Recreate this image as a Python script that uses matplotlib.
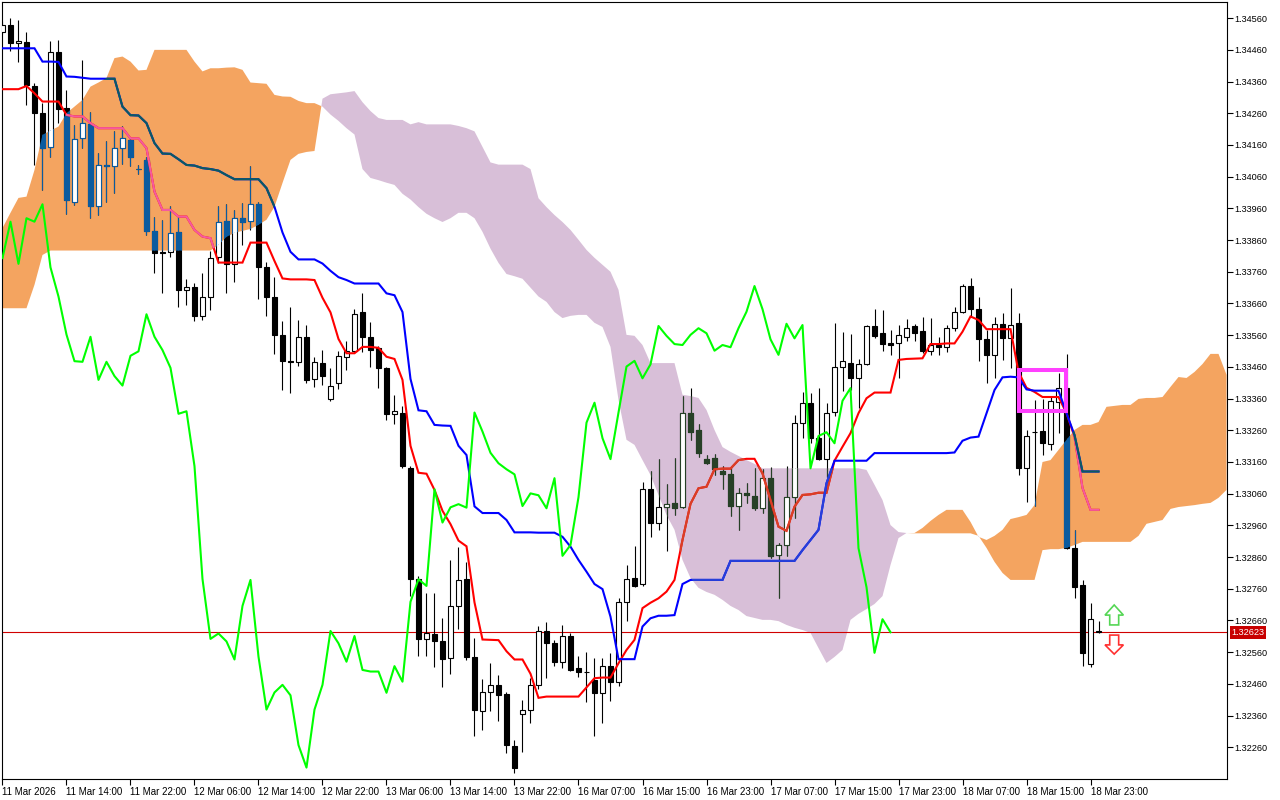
import numpy as np
import matplotlib
matplotlib.use("Agg")
import matplotlib.pyplot as plt
import matplotlib.transforms as mtransforms
from matplotlib.path import Path
from matplotlib.patches import Polygon, Rectangle

# H1 candles, one per bar index
OPEN = [1.34517, 1.34539, 1.34481, 1.34484, 1.34346, 1.34260, 1.34153, 1.34453, 1.34276, 1.33981,
        1.34181, 1.34227, 1.33969, 1.34097, 1.34095, 1.34150, 1.34176, 1.34084, 1.34113, 1.33890,
        1.33821, 1.33822, 1.33884, 1.33701, 1.33711, 1.33621, 1.33680, 1.33806, 1.33920, 1.33785,
        1.33929, 1.33920, 1.33973, 1.33776, 1.33682, 1.33562, 1.33478, 1.33475, 1.33555, 1.33422,
        1.33472, 1.33358, 1.33408, 1.33492, 1.33509, 1.33633, 1.33555, 1.33520, 1.33457, 1.33312,
        1.33316, 1.33140, 1.32791, 1.32602, 1.32616, 1.32594, 1.32541, 1.32706, 1.32791, 1.32546,
        1.32376, 1.32433, 1.32457, 1.32428, 1.32263, 1.32365, 1.32379, 1.32457, 1.32626, 1.32588,
        1.32530, 1.32611, 1.32509, 1.32498, 1.32472, 1.32432, 1.32516, 1.32467, 1.32719, 1.32793,
        1.32774, 1.33074, 1.32969, 1.33017, 1.33030, 1.33017, 1.33316, 1.33261, 1.33169, 1.33172,
        1.33130, 1.33122, 1.33021, 1.33063, 1.33053, 1.33014, 1.33109, 1.32867, 1.32898, 1.33049,
        1.33282, 1.33347, 1.33235, 1.33169, 1.33319, 1.33461, 1.33473, 1.33424, 1.33468, 1.33589,
        1.33568, 1.33536, 1.33536, 1.33554, 1.33589, 1.33573, 1.33511, 1.33529, 1.33522, 1.33582,
        1.33634, 1.33715, 1.33642, 1.33547, 1.33498, 1.33596, 1.33550, 1.33600, 1.33140, 1.33254,
        1.33258, 1.33217, 1.33350, 1.33393, 1.32888, 1.32772, 1.32523, 1.32626]
HIGH = [1.34550, 1.34560, 1.34555, 1.34515, 1.34356, 1.34293, 1.34489, 1.34492, 1.34334, 1.34223,
        1.34428, 1.34265, 1.34134, 1.34173, 1.34204, 1.34220, 1.34186, 1.34097, 1.34123, 1.33932,
        1.33924, 1.33968, 1.33934, 1.33737, 1.33724, 1.33756, 1.33824, 1.33966, 1.33974, 1.33955,
        1.33976, 1.34094, 1.33981, 1.33791, 1.33745, 1.33605, 1.33650, 1.33608, 1.33591, 1.33492,
        1.33513, 1.33457, 1.33509, 1.33542, 1.33644, 1.33692, 1.33602, 1.33527, 1.33460, 1.33370,
        1.33337, 1.33147, 1.32799, 1.32746, 1.32746, 1.32668, 1.32851, 1.32893, 1.32845, 1.32605,
        1.32475, 1.32527, 1.32489, 1.32436, 1.32284, 1.32408, 1.32478, 1.32644, 1.32654, 1.32598,
        1.32646, 1.32622, 1.32548, 1.32562, 1.32541, 1.32541, 1.32558, 1.32730, 1.32835, 1.32895,
        1.33098, 1.33130, 1.33169, 1.33091, 1.33172, 1.33368, 1.33393, 1.33280, 1.33182, 1.33185,
        1.33147, 1.33145, 1.33077, 1.33095, 1.33140, 1.33137, 1.33143, 1.32904, 1.33147, 1.33308,
        1.33382, 1.33377, 1.33393, 1.33347, 1.33600, 1.33571, 1.33564, 1.33484, 1.33592, 1.33642,
        1.33640, 1.33577, 1.33592, 1.33610, 1.33596, 1.33618, 1.33613, 1.33555, 1.33592, 1.33648,
        1.33722, 1.33740, 1.33682, 1.33577, 1.33618, 1.33631, 1.33708, 1.33629, 1.33261, 1.33356,
        1.33358, 1.33368, 1.33440, 1.33501, 1.32946, 1.32788, 1.32716, 1.32657]
LOW = [1.34510, 1.34455, 1.34423, 1.34286, 1.34097, 1.34018, 1.34121, 1.34229, 1.33943, 1.33971,
       1.34150, 1.33929, 1.33939, 1.33981, 1.34008, 1.34100, 1.34095, 1.34069, 1.33876, 1.33757,
       1.33692, 1.33808, 1.33650, 1.33655, 1.33606, 1.33608, 1.33640, 1.33787, 1.33692, 1.33729,
       1.33845, 1.33892, 1.33673, 1.33619, 1.33500, 1.33387, 1.33379, 1.33464, 1.33410, 1.33397,
       1.33403, 1.33351, 1.33389, 1.33450, 1.33503, 1.33506, 1.33461, 1.33394, 1.33293, 1.33281,
       1.33140, 1.32738, 1.32548, 1.32548, 1.32513, 1.32450, 1.32492, 1.32633, 1.32534, 1.32295,
       1.32316, 1.32376, 1.32344, 1.32241, 1.32179, 1.32245, 1.32337, 1.32443, 1.32478, 1.32516,
       1.32509, 1.32502, 1.32483, 1.32404, 1.32296, 1.32338, 1.32407, 1.32453, 1.32659, 1.32765,
       1.32769, 1.32924, 1.32946, 1.32880, 1.32993, 1.33015, 1.33230, 1.33177, 1.33154, 1.33119,
       1.33074, 1.32990, 1.32946, 1.33032, 1.33009, 1.32998, 1.32856, 1.32730, 1.32864, 1.32982,
       1.33235, 1.33221, 1.33166, 1.33112, 1.33305, 1.33385, 1.33387, 1.33330, 1.33465, 1.33550,
       1.33511, 1.33498, 1.33424, 1.33543, 1.33543, 1.33503, 1.33498, 1.33498, 1.33508, 1.33574,
       1.33631, 1.33618, 1.33477, 1.33408, 1.33424, 1.33482, 1.33456, 1.33119, 1.33035, 1.33021,
       1.33182, 1.33198, 1.33251, 1.32885, 1.32730, 1.32516, 1.32512, 1.32620]
CLOSE = [1.34540, 1.34481, 1.34488, 1.34350, 1.34260, 1.34152, 1.34453, 1.34273, 1.33985, 1.34178,
         1.34229, 1.33969, 1.34097, 1.34094, 1.34150, 1.34181, 1.34123, 1.34084, 1.33890, 1.33819,
         1.33819, 1.33882, 1.33701, 1.33711, 1.33621, 1.33680, 1.33803, 1.33918, 1.33785, 1.33929,
         1.33918, 1.33973, 1.33774, 1.33682, 1.33562, 1.33478, 1.33476, 1.33555, 1.33419, 1.33476,
         1.33431, 1.33401, 1.33495, 1.33509, 1.33626, 1.33555, 1.33513, 1.33457, 1.33312, 1.33320,
         1.33147, 1.32791, 1.32602, 1.32619, 1.32594, 1.32537, 1.32706, 1.32788, 1.32546, 1.32379,
         1.32433, 1.32457, 1.32424, 1.32267, 1.32196, 1.32379, 1.32457, 1.32627, 1.32588, 1.32530,
         1.32611, 1.32504, 1.32499, 1.32499, 1.32432, 1.32516, 1.32467, 1.32719, 1.32790, 1.32769,
         1.33074, 1.32969, 1.33017, 1.33027, 1.33016, 1.33316, 1.33256, 1.33189, 1.33156, 1.33137,
         1.33121, 1.33021, 1.33061, 1.33055, 1.33014, 1.33109, 1.32864, 1.32898, 1.33049, 1.33284,
         1.33347, 1.33235, 1.33169, 1.33316, 1.33461, 1.33479, 1.33424, 1.33468, 1.33589, 1.33558,
         1.33532, 1.33529, 1.33561, 1.33582, 1.33566, 1.33511, 1.33529, 1.33522, 1.33582, 1.33634,
         1.33715, 1.33642, 1.33547, 1.33498, 1.33596, 1.33550, 1.33592, 1.33140, 1.33242, 1.33254,
         1.33219, 1.33353, 1.33393, 1.32888, 1.32765, 1.32558, 1.32664, 1.32623]

# Ichimoku lines as displayed
TENKAN = [1.34336, 1.34336, 1.34336, 1.34346, 1.34323, 1.34297, 1.34297, 1.34297, 1.34255, 1.34250,
          1.34250, 1.34229, 1.34213, 1.34213, 1.34213, 1.34213, 1.34181, 1.34181, 1.34150, 1.34013,
          1.33955, 1.33955, 1.33934, 1.33934, 1.33892, 1.33871, 1.33866, 1.33789, 1.33789, 1.33789,
          1.33789, 1.33852, 1.33852, 1.33852, 1.33794, 1.33739, 1.33736, 1.33736, 1.33736, 1.33734,
          1.33678, 1.33632, 1.33548, 1.33503, 1.33503, 1.33523, 1.33523, 1.33520, 1.33492, 1.33485,
          1.33419, 1.33211, 1.33126, 1.33123, 1.33072, 1.33006, 1.32964, 1.32912, 1.32894, 1.32717,
          1.32600, 1.32599, 1.32598, 1.32563, 1.32537, 1.32537, 1.32492, 1.32416, 1.32420, 1.32420,
          1.32420, 1.32420, 1.32420, 1.32449, 1.32478, 1.32480, 1.32480, 1.32525, 1.32567, 1.32599,
          1.32699, 1.32716, 1.32730, 1.32751, 1.32788, 1.32914, 1.33028, 1.33077, 1.33082, 1.33137,
          1.33139, 1.33139, 1.33166, 1.33170, 1.33170, 1.33124, 1.33040, 1.32956, 1.32943, 1.33019,
          1.33056, 1.33058, 1.33063, 1.33063, 1.33164, 1.33208, 1.33251, 1.33314, 1.33361, 1.33379,
          1.33379, 1.33379, 1.33482, 1.33485, 1.33486, 1.33487, 1.33532, 1.33532, 1.33534, 1.33534,
          1.33571, 1.33619, 1.33608, 1.33579, 1.33579, 1.33579, 1.33579, 1.33444, 1.33394, 1.33381,
          1.33365, 1.33365, 1.33365, 1.33314, 1.33239, 1.33078, 1.33009, 1.33009]
KIJUN = [1.34465, 1.34465, 1.34465, 1.34465, 1.34465, 1.34423, 1.34423, 1.34422, 1.34376, 1.34375,
         1.34372, 1.34369, 1.34369, 1.34369, 1.34369, 1.34281, 1.34254, 1.34253, 1.34229, 1.34166,
         1.34133, 1.34132, 1.34115, 1.34097, 1.34095, 1.34087, 1.34084, 1.34079, 1.34065, 1.34052,
         1.34052, 1.34052, 1.34052, 1.34024, 1.33965, 1.33884, 1.33823, 1.33799, 1.33799, 1.33799,
         1.33786, 1.33763, 1.33743, 1.33734, 1.33723, 1.33723, 1.33723, 1.33723, 1.33692, 1.33686,
         1.33633, 1.33422, 1.33323, 1.33320, 1.33277, 1.33275, 1.33274, 1.33211, 1.33182, 1.33020,
         1.32999, 1.32999, 1.32999, 1.32977, 1.32938, 1.32938, 1.32938, 1.32937, 1.32937, 1.32937,
         1.32924, 1.32893, 1.32851, 1.32814, 1.32775, 1.32759, 1.32672, 1.32538, 1.32538, 1.32538,
         1.32641, 1.32667, 1.32675, 1.32675, 1.32677, 1.32775, 1.32788, 1.32788, 1.32788, 1.32788,
         1.32788, 1.32848, 1.32848, 1.32848, 1.32848, 1.32848, 1.32848, 1.32848, 1.32848, 1.32848,
         1.32882, 1.32914, 1.32946, 1.33093, 1.33164, 1.33164, 1.33164, 1.33164, 1.33164, 1.33188,
         1.33188, 1.33188, 1.33188, 1.33188, 1.33188, 1.33188, 1.33188, 1.33188, 1.33188, 1.33190,
         1.33227, 1.33237, 1.33240, 1.33314, 1.33387, 1.33427, 1.33429, 1.33427, 1.33389, 1.33385,
         1.33385, 1.33385, 1.33385, 1.33314, 1.33245, 1.33130, 1.33130, 1.33130]
# senkou spans, already shifted 26 bars ahead (so they run past the last candle)
SPAN_A = [1.33898, 1.33946, 1.33993, 1.33997, 1.34081, 1.34192, 1.34205, 1.34218, 1.34260, 1.34281,
          1.34302, 1.34344, 1.34357, 1.34371, 1.34434, 1.34439, 1.34423, 1.34395, 1.34397, 1.34460,
          1.34460, 1.34460, 1.34460, 1.34460, 1.34423, 1.34392, 1.34402, 1.34402, 1.34404, 1.34405,
          1.34397, 1.34357, 1.34355, 1.34353, 1.34318, 1.34313, 1.34312, 1.34299, 1.34292, 1.34292,
          1.34281, 1.34256, 1.34236, 1.34213, 1.34193, 1.34084, 1.34056, 1.34049, 1.34041, 1.34034,
          1.34006, 1.33988, 1.33964, 1.33943, 1.33929, 1.33917, 1.33929, 1.33946, 1.33946, 1.33929,
          1.33886, 1.33833, 1.33788, 1.33753, 1.33746, 1.33738, 1.33710, 1.33682, 1.33665, 1.33633,
          1.33614, 1.33621, 1.33624, 1.33624, 1.33599, 1.33586, 1.33523, 1.33356, 1.33230, 1.33214,
          1.33166, 1.33119, 1.33056, 1.32993, 1.32946, 1.32851, 1.32794, 1.32763, 1.32750, 1.32741,
          1.32725, 1.32706, 1.32693, 1.32674, 1.32668, 1.32662, 1.32662, 1.32658, 1.32646, 1.32637,
          1.32630, 1.32621, 1.32573, 1.32526, 1.32545, 1.32567, 1.32662, 1.32681, 1.32696, 1.32712,
          1.32737, 1.32835, 1.32920, 1.32936, 1.32936, 1.32952, 1.32974, 1.32993, 1.33009, 1.33009,
          1.33009, 1.32971, 1.32924, 1.32914, 1.32927, 1.32946, 1.32980, 1.32986, 1.32993, 1.33024,
          1.33160, 1.33166, 1.33198, 1.33230, 1.33261, 1.33277, 1.33277, 1.33286, 1.33334, 1.33337,
          1.33340, 1.33340, 1.33359, 1.33362, 1.33362, 1.33365, 1.33397, 1.33428, 1.33425, 1.33444,
          1.33469, 1.33501, 1.33501, 1.33435]
SPAN_B = [1.33645, 1.33645, 1.33645, 1.33645, 1.33719, 1.33813, 1.33827, 1.33827, 1.33827, 1.33827,
          1.33827, 1.33827, 1.33827, 1.33827, 1.33827, 1.33827, 1.33827, 1.33827, 1.33827, 1.33827,
          1.33827, 1.33827, 1.33827, 1.33827, 1.33827, 1.33827, 1.33827, 1.33845, 1.33870, 1.33883,
          1.33889, 1.33895, 1.33908, 1.33924, 1.33965, 1.34040, 1.34113, 1.34132, 1.34138, 1.34141,
          1.34306, 1.34320, 1.34323, 1.34326, 1.34330, 1.34295, 1.34267, 1.34245, 1.34239, 1.34239,
          1.34239, 1.34225, 1.34232, 1.34225, 1.34225, 1.34225, 1.34225, 1.34220, 1.34213, 1.34203,
          1.34154, 1.34105, 1.34098, 1.34098, 1.34098, 1.34098, 1.34084, 1.33992, 1.33964, 1.33939,
          1.33917, 1.33892, 1.33861, 1.33829, 1.33804, 1.33782, 1.33760, 1.33703, 1.33561, 1.33558,
          1.33529, 1.33472, 1.33472, 1.33472, 1.33472, 1.33372, 1.33368, 1.33362, 1.33324, 1.33261,
          1.33207, 1.33192, 1.33179, 1.33166, 1.33154, 1.33140, 1.33140, 1.33140, 1.33140, 1.33140,
          1.33140, 1.33140, 1.33140, 1.33140, 1.33140, 1.33140, 1.33140, 1.33140, 1.33135, 1.33088,
          1.33040, 1.32961, 1.32939, 1.32936, 1.32935, 1.32935, 1.32935, 1.32935, 1.32935, 1.32935,
          1.32935, 1.32935, 1.32927, 1.32889, 1.32845, 1.32810, 1.32788, 1.32788, 1.32788, 1.32788,
          1.32882, 1.32885, 1.32885, 1.32889, 1.32898, 1.32908, 1.32908, 1.32908, 1.32908, 1.32908,
          1.32908, 1.32908, 1.32927, 1.32965, 1.32971, 1.32977, 1.33012, 1.33018, 1.33021, 1.33024,
          1.33028, 1.33031, 1.33047, 1.33072]

XLABELS = ["11 Mar 2026", "11 Mar 14:00", "11 Mar 22:00", "12 Mar 06:00", "12 Mar 14:00",
           "12 Mar 22:00", "13 Mar 06:00", "13 Mar 14:00", "13 Mar 22:00", "16 Mar 07:00",
           "16 Mar 15:00", "16 Mar 23:00", "17 Mar 07:00", "17 Mar 15:00", "17 Mar 23:00",
           "18 Mar 07:00", "18 Mar 15:00", "18 Mar 23:00"]
LAST_PRICE = 1.32623

plt.rcParams['font.family'] = ['Liberation Sans', 'DejaVu Sans']

o = np.array(OPEN)
h = np.array(HIGH)
l = np.array(LOW)
c = np.array(CLOSE)
x = np.arange(len(c))
sa = np.array(SPAN_A)
sb = np.array(SPAN_B)
xc = np.arange(len(sa))

fig = plt.figure(figsize=(12.8, 8), dpi=100)
ax = fig.add_axes([2 / 1280, 21 / 800, 1225 / 1280, 777 / 800])

# kumo
kumo_up = ax.fill_between(xc, sa, sb, where=sa >= sb, interpolate=True,
                          color='#f4a460', lw=0, zorder=1)
kumo_dn = ax.fill_between(xc, sa, sb, where=sa < sb, interpolate=True,
                          color='#d8bfd8', lw=0, zorder=1)
up_path = Path.make_compound_path(*kumo_up.get_paths())
dn_path = Path.make_compound_path(*kumo_dn.get_paths())


def candles(dark, z, clip=None):
    rise = c >= o
    lo = np.minimum(o, c)
    hgt = np.maximum(np.abs(c - o), 0.000004)
    arts = [ax.vlines(x, l, h, colors=dark, lw=0.8, zorder=z)]
    arts += ax.bar(x[rise], hgt[rise], 0.6, lo[rise], color='white',
                   edgecolor=dark, lw=0.8, zorder=z).patches
    arts += ax.bar(x[~rise], hgt[~rise], 0.6, lo[~rise], color=dark,
                   edgecolor=dark, lw=0.8, zorder=z).patches
    if clip is not None:
        for a in arts:
            a.set_clip_path(clip, ax.transData)


def line(y, col, z, clip=None):
    ln, = ax.plot(x, y, color=col, lw=1.5, zorder=z, solid_joinstyle='miter')
    if clip is not None:
        ln.set_clip_path(clip, ax.transData)


ax.axhline(LAST_PRICE, color='#d00000', lw=0.8, zorder=2)

# the terminal inverts colours where objects cross the cloud
candles('black', 3)
candles('#0b5b9f', 3.5, up_path)
candles('#274027', 3.5, dn_path)
line(TENKAN, '#ff0000', 4)
line(TENKAN, '#f45b9f', 4.2, up_path)
line(TENKAN, '#d84027', 4.2, dn_path)
line(KIJUN, '#0000ff', 4.4)
line(KIJUN, '#0b5b60', 4.6, up_path)
line(KIJUN, '#2740d8', 4.6, dn_path)

# chikou = close drawn 26 bars back
ax.plot(x[:-26], c[26:], color='#00ff00', lw=1.5, zorder=5)

# marked box
ax.add_patch(Rectangle((127.0, 1.33320), 5.98, 0.00129, fill=False,
                       ec='#ff40ff', lw=2.9, zorder=6))

# buy / sell arrows
ax.add_patch(Polygon([(138.96, 1.32709), (140.11, 1.32677), (139.52, 1.32677), (139.52, 1.32646),
                      (138.40, 1.32646), (138.40, 1.32677), (137.81, 1.32677)],
                     closed=True, fc='white', ec='#55d655', lw=1.2, zorder=6))
ax.add_patch(Polygon([(138.96, 1.32554), (140.11, 1.32583), (139.52, 1.32583), (139.52, 1.32614),
                      (138.40, 1.32614), (138.40, 1.32583), (137.81, 1.32583)],
                     closed=True, fc='white', ec='#ff3030', lw=1.2, zorder=6))

ax.set_xlim(-0.06, 153.06)
ax.set_ylim(1.32160, 1.34611)

ax.set_xticks(np.arange(0, 8 * len(XLABELS), 8))
ax.set_xticklabels(XLABELS)
for t in ax.get_xticklabels():
    t.set_horizontalalignment('left')
ax.set_yticks(np.round(np.arange(1.32260, 1.34561, 0.001), 5))
ax.yaxis.set_major_formatter(matplotlib.ticker.FormatStrFormatter('%.5f'))
ax.tick_params(axis='y', direction='out', length=4, width=0.8, labelsize=6.6, pad=1,
               left=False, labelleft=False, right=True, labelright=True)
ax.tick_params(axis='x', direction='out', length=4.5, width=0.8, labelsize=7, pad=1.5)
for s in ax.spines.values():
    s.set_linewidth(0.8)

# current price tag
tr = mtransforms.blended_transform_factory(ax.transAxes, ax.transData)
ax.text(1 + 4.5 / 1225, LAST_PRICE, '%.5f' % LAST_PRICE, transform=tr, ha='left', va='center',
        fontsize=6.6, color='white', clip_on=False, zorder=10,
        bbox=dict(boxstyle='square,pad=0.2', fc='#c80000', ec='none'))

fig.savefig('out.png', dpi=100)
plt.close()
